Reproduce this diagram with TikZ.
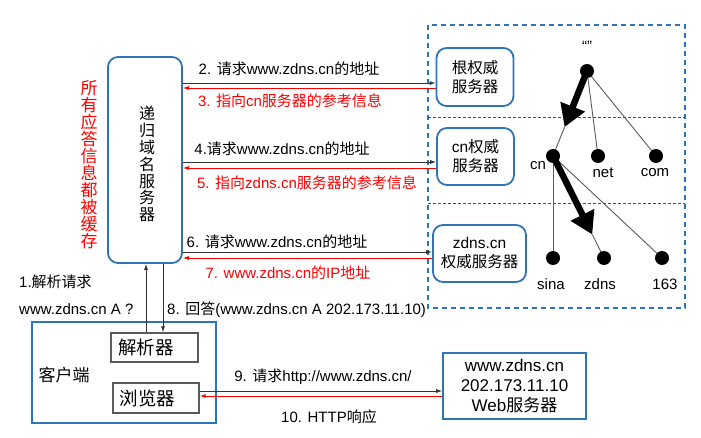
\documentclass[tikz,border=0pt]{standalone}
\usepackage{fontspec}
\setmainfont{Liberation Sans}
\newfontfamily\cjk{Noto Sans CJK SC}
\newcommand\zh[1]{{\cjk #1}}
\usetikzlibrary{arrows.meta,calc,backgrounds}
\definecolor{bl}{RGB}{46,117,182}
\definecolor{rd}{RGB}{255,0,0}
\definecolor{gr}{RGB}{90,90,90}
\tikzset{
  rbox/.style={draw=bl, line width=1.8pt, rounded corners=10pt, inner sep=0pt, align=center,
    font=\fontsize{15.5}{19}\selectfont},
  sbox/.style={draw=bl, line width=1.6pt, inner sep=0pt, align=center},
  gbox/.style={draw=gr, line width=1.4pt, inner sep=0pt, align=left, text width=73pt,
    font=\fontsize{18.5}{20}\selectfont\cjk},
  lbl/.style={inner sep=0pt, font=\fontsize{15}{18}\selectfont},
  rlbl/.style={lbl, text=rd},
  blk/.style={draw=black!80, line width=0.8pt, -{Latex[length=6pt,width=4pt]}},
  red/.style={draw=rd, line width=0.8pt, -{Latex[length=6pt,width=4pt]}},
  dot/.style={circle, fill=black, inner sep=0pt, minimum size=14pt},
  tline/.style={draw=gr, line width=0.9pt},
  tarrow/.style={draw=black, line width=6.5pt, -{Triangle[length=22pt,width=25pt]}},
  sep/.style={draw=black!70, line width=0.8pt, dash pattern=on 3pt off 2pt},
}
\begin{document}
\begin{tikzpicture}[x=1pt,y=-1pt]
\useasboundingbox (0,0) rectangle (701,438);
% big dashed box
\draw[bl, line width=1.5pt, dash pattern=on 5pt off 4pt] (428,25) rectangle (685,308);
\draw[sep] (428,117) -- (685,117);
\draw[sep] (428,203) -- (685,203);

% recursive server
\node[rbox, minimum width=74pt, minimum height=206pt] (rec) at (145,160) {};
\node[inner sep=0pt, align=center, font=\fontsize{16}{16.9}\selectfont\cjk] (rectext) at (147,164)
  {递\\归\\域\\名\\服\\务\\器};
\node[inner sep=0pt, align=center, text=rd, font=\fontsize{17}{17}\selectfont\cjk] (cache) at (89,165)
  {所\\有\\应\\答\\信\\息\\都\\被\\缓\\存};

% authoritative servers
\node[rbox, minimum width=77pt, minimum height=58pt] (root) at (475,77) {\zh{根权威}\\\zh{服务器}};
\node[rbox, minimum width=77pt, minimum height=57pt] (cnsrv) at (475.5,156.5) {cn\zh{权威}\\\zh{服务器}};
\node[rbox, minimum width=93pt, minimum height=57pt] (zsrv) at (479.5,253.5) {zdns.cn\\\zh{权威服务器}};

% client side
\node[sbox, minimum width=184pt, minimum height=101pt] (client) at (124,372.5) {};
\node[inner sep=0pt, font=\fontsize{17}{20}\selectfont\cjk] (clientlbl) at (64,375) {客户端};
\node[gbox, minimum width=87pt, minimum height=29pt] (resolver) at (154.5,347.5) {解析器};
\node[gbox, minimum width=86pt, minimum height=30pt] (browser) at (156,398) {浏览器};
\node[sbox, minimum width=143pt, minimum height=66pt, font=\fontsize{17}{20}\selectfont] (web) at (514.5,386)
  {www.zdns.cn\\202.173.11.10\\Web\zh{服务器}};

% coordinates for horizontal connectors
\coordinate (y2) at (0,83);
\coordinate (y3) at (0,88);
\coordinate (y4) at (0,162);
\coordinate (y5) at (0,168);
\coordinate (y6) at (0,252);
\coordinate (y7) at (0,258);
\coordinate (y9) at (0,391);
\coordinate (y10) at (0,396);
\coordinate (xu) at (146,0);
\coordinate (xd) at (163,0);

\draw[blk] (rec.east |- y2) -- (root.west |- y2);
\draw[red] (root.west |- y3) -- (rec.east |- y3);
\draw[blk] (rec.east |- y4) -- (cnsrv.west |- y4);
\draw[red] (cnsrv.west |- y5) -- (rec.east |- y5);
\draw[blk] (rec.east |- y6) -- (zsrv.west |- y6);
\draw[red] (zsrv.west |- y7) -- (rec.east |- y7);
\draw[blk] (xu |- resolver.north) -- (xu |- rec.south);
\draw[blk] (xd |- rec.south) -- (xd |- resolver.north);
\draw[blk] (browser.east |- y9) -- (web.west |- y9);
\draw[red] (web.west |- y10) -- (browser.east |- y10);

% labels
\node[lbl] (l2) at (289,69) {2. \zh{请求}www.zdns.cn\zh{的地址}};
\node[rlbl] (l3) at (290,101) {3. \zh{指向}cn\zh{服务器的参考信息}};
\node[lbl] (l4) at (282,149) {4.\zh{请求}www.zdns.cn\zh{的地址}};
\node[rlbl] (l5) at (307,183) {5. \zh{指向}zdns.cn\zh{服务器的参考信息}};
\node[lbl] (l6) at (277,242) {6. \zh{请求}www.zdns.cn\zh{的地址}};
\node[rlbl] (l7) at (288,273) {7. www.zdns.cn\zh{的}IP\zh{地址}};
\node[lbl, anchor=west] (l8) at (167,310) {8. \zh{回答}(www.zdns.cn A 202.173.11.10)};
\node[lbl, anchor=west] (l1) at (19,282) {1.\zh{解析请求}};
\node[lbl, anchor=west] (l1b) at (19,309) {www.zdns.cn A ?};
\node[lbl] (l9) at (323,377) {9. \zh{请求}http://www.zdns.cn/};
\node[lbl] (l10) at (329,417) {10. HTTP\zh{响应}};

% domain tree
\node[dot] (troot) at (587,71) {};
\node[dot] (tcn) at (553,156) {};
\node[dot] (tnet) at (598,156) {};
\node[dot] (tcom) at (656,156) {};
\node[dot] (tsina) at (553,258) {};
\node[dot] (tzdns) at (604,258) {};
\node[dot] (t163) at (662,258) {};
\node[lbl] (qroot) at (587,46) {“”};
\node[lbl] (qcn) at (538,166) {cn};
\node[lbl] (qnet) at (603,173) {net};
\node[lbl] (qcom) at (655,173) {com};
\node[lbl] (qsina) at (551,284) {sina};
\node[lbl] (qzdns) at (600,284) {zdns};
\node[lbl] (q163) at (665,284) {163};

\coordinate (a1) at ($(troot.center)!0.66!(tcn.center)$);
\coordinate (a2) at ($(tcn.center)!0.77!(tzdns.center)$);
\begin{scope}[on background layer]
\draw[tline] (troot.center) -- (tnet.center);
\draw[tline] (troot.center) -- (tcom.center);
\draw[tline] (tcn.center) -- (tsina.center);
\draw[tline] (tcn.center) -- (t163.center);
\draw[tline] (a1) -- (tcn.center);
\draw[tline] (a2) -- (tzdns.center);
\end{scope}
\draw[tarrow] (troot.center) -- (a1);
\draw[tarrow] (tcn.center) -- (a2);
\end{tikzpicture}
\end{document}
